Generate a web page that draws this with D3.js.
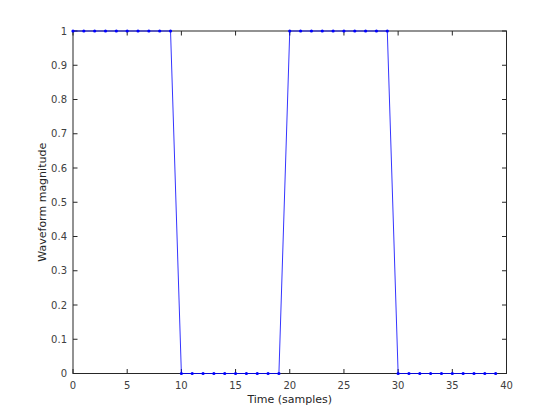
<!DOCTYPE html>
<html>
<head>
<meta charset="utf-8">
<script src="https://cdn.jsdelivr.net/npm/d3@7"></script>
<style>
  body { margin: 0; background: #fff; }
  text { font-family: "DejaVu Sans", sans-serif; }
</style>
</head>
<body>
<div id="chart"></div>
<script>
// samples and waveform values
var samples = [0,1,2,3,4,5,6,7,8,9,10,11,12,13,14,15,16,17,18,19,
               20,21,22,23,24,25,26,27,28,29,30,31,32,33,34,35,36,37,38,39];
var magnitude = [1,1,1,1,1,1,1,1,1,1,0,0,0,0,0,0,0,0,0,0,
                 1,1,1,1,1,1,1,1,1,1,0,0,0,0,0,0,0,0,0,0];
var xTicks = [0,5,10,15,20,25,30,35,40];
var yTicks = [0,0.1,0.2,0.3,0.4,0.5,0.6,0.7,0.8,0.9,1];

var width = 560, height = 420;
var plotL = 73, plotT = 31, plotR = 506.5, plotB = 373.5;

var svg = d3.select('#chart').append('svg')
  .attr('width', width)
  .attr('height', height);

var x = d3.scaleLinear().domain([0, 40]).range([plotL, plotR]);
var y = d3.scaleLinear().domain([0, 1]).range([plotB, plotT]);

var axisColor = '#262626';
var textColor = '#404040';
var tickLen = 4.5;

// axes box
svg.append('rect')
  .attr('x', plotL).attr('y', plotT)
  .attr('width', plotR - plotL).attr('height', plotB - plotT)
  .attr('fill', 'none').attr('stroke', axisColor).attr('stroke-width', 1);

// ticks (inward, on all four sides)
var g = svg.append('g').attr('stroke', axisColor).attr('stroke-width', 1);
xTicks.forEach(function(t){
  g.append('line').attr('x1', x(t)).attr('x2', x(t)).attr('y1', plotB).attr('y2', plotB - tickLen);
  g.append('line').attr('x1', x(t)).attr('x2', x(t)).attr('y1', plotT).attr('y2', plotT + tickLen);
});
yTicks.forEach(function(t){
  g.append('line').attr('x1', plotL).attr('x2', plotL + tickLen).attr('y1', y(t)).attr('y2', y(t));
  g.append('line').attr('x1', plotR).attr('x2', plotR - tickLen).attr('y1', y(t)).attr('y2', y(t));
});

// tick labels
svg.selectAll('.xlab').data(xTicks).enter().append('text')
  .attr('x', function(d){ return x(d); })
  .attr('y', plotB + 15)
  .attr('text-anchor', 'middle')
  .attr('font-size', 10)
  .attr('fill', textColor)
  .text(function(d){ return d; });

svg.selectAll('.ylab').data(yTicks).enter().append('text')
  .attr('x', plotL - 6)
  .attr('y', function(d){ return y(d) + 3.5; })
  .attr('text-anchor', 'end')
  .attr('font-size', 10)
  .attr('fill', textColor)
  .text(function(d){ return d; });

// axis titles
svg.append('text')
  .attr('x', (plotL + plotR) / 2)
  .attr('y', plotB + 29)
  .attr('text-anchor', 'middle')
  .attr('font-size', 11)
  .attr('fill', axisColor)
  .text('Time (samples)');

svg.append('text')
  .attr('transform', 'translate(' + (plotL - 27) + ',' + ((plotT + plotB) / 2) + ') rotate(-90)')
  .attr('text-anchor', 'middle')
  .attr('font-size', 11)
  .attr('fill', axisColor)
  .text('Waveform magnitude');

// line + point markers
var line = d3.line()
  .x(function(d, i){ return x(samples[i]); })
  .y(function(d){ return y(d); });

svg.append('path')
  .datum(magnitude)
  .attr('d', line)
  .attr('fill', 'none')
  .attr('stroke', '#0000ff')
  .attr('stroke-width', 0.8);

svg.selectAll('.pt').data(magnitude).enter().append('circle')
  .attr('cx', function(d, i){ return x(samples[i]); })
  .attr('cy', function(d){ return y(d); })
  .attr('r', 1.6)
  .attr('fill', '#0000ff');
</script>
</body>
</html>
